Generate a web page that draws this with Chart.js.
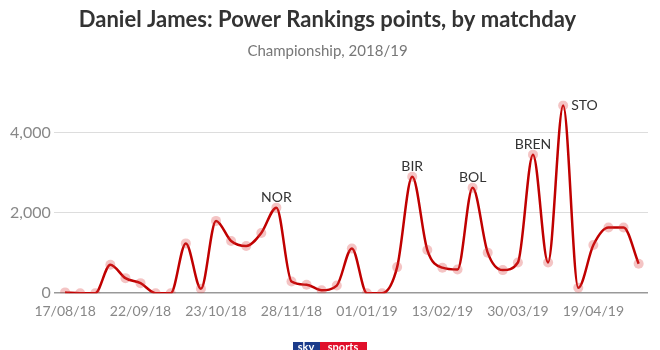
<!DOCTYPE html>
<html>
<head>
<meta charset="utf-8">
<script src="https://cdn.jsdelivr.net/npm/chart.js@4"></script>
<style>
  html,body{margin:0;padding:0;background:#fff;}
  #wrap{width:660px;height:350px;position:relative;}
</style>
</head>
<body>
<div id="wrap"><canvas id="chart" width="660" height="350"></canvas></div>
<script>
// ── DATA ──
const dateLabels = ['17/08/18','','','','','22/09/18','','','','','23/10/18','','','','','28/11/18','','','','',
  '01/01/19','','','','','13/02/19','','','','','30/03/19','','','','','19/04/19','','',''];
const points = [20,0,0,710,375,250,0,0,1240,110,1800,1300,1175,1500,2130,290,210,75,190,1115,
  0,0,650,2900,1075,635,590,2625,1010,575,765,3450,765,4675,135,1200,1635,1635,735];
const yTicks = [0,2000,4000];
const xTicks = [0,5,10,15,20,25,30,35];
const callouts = [
  {i:14, text:'NOR', side:'top'},
  {i:23, text:'BIR', side:'top'},
  {i:27, text:'BOL', side:'top'},
  {i:31, text:'BREN', side:'top'},
  {i:33, text:'STO', side:'right'}
];

const FONT = 'Lato, "Open Sans", sans-serif';

/* ── callout labels + logo ── */
const extras = {
  id:'extras',
  afterDatasetsDraw(chart){
    const {ctx, scales:{x,y}} = chart;
    ctx.save();
    ctx.font = '14px ' + FONT;
    ctx.fillStyle = '#333';
    callouts.forEach(c=>{
      const px = x.getPixelForValue(c.i), py = y.getPixelForValue(points[c.i]);
      if(c.side==='right'){
        ctx.textAlign='left'; ctx.textBaseline='middle';
        ctx.fillText(c.text, px+8, py);
      } else {
        ctx.textAlign='center'; ctx.textBaseline='bottom';
        ctx.fillText(c.text, px, py-3);
      }
    });
    // sky sports badge, cut off at the bottom edge
    ctx.fillStyle='#1b3b8a'; ctx.fillRect(293,342,27,10);
    ctx.fillStyle='#e0102b'; ctx.fillRect(320,342,47,10);
    ctx.fillStyle='#fff'; ctx.font='bold 11px ' + FONT;
    ctx.textAlign='center'; ctx.textBaseline='top';
    ctx.fillText('sky',306,342); ctx.fillText('sports',343,342);
    ctx.restore();
  }
};

new Chart(document.getElementById('chart'),{
  type:'line',
  data:{
    datasets:[{
      data: points.map((v,i)=>({x:i,y:v})),
      borderColor:'#c00000',
      borderWidth:2.5,
      cubicInterpolationMode:'monotone',
      pointRadius:5,
      pointBorderWidth:0,
      pointBackgroundColor:'rgba(220,60,60,0.3)',
      fill:false
    }]
  },
  options:{
    responsive:false,
    animation:false,
    layout:{padding:{left:7,right:12,top:0,bottom:28}},
    plugins:{
      legend:{display:false},
      tooltip:{enabled:false},
      title:{
        display:true,
        text:'Daniel James: Power Rankings points, by matchday',
        color:'#333',
        font:{family:FONT,size:22,weight:'bold'},
        padding:{top:7,bottom:6}
      },
      subtitle:{
        display:true,
        text:'Championship, 2018/19',
        color:'#777',
        font:{family:FONT,size:15},
        padding:{top:3,bottom:40}
      }
    },
    scales:{
      x:{
        type:'linear',
        min:-0.75, max:38.62,
        afterBuildTicks(axis){ axis.ticks = xTicks.map(v=>({value:v})); },
        grid:{display:false},
        border:{display:false},
        ticks:{
          autoSkip:false, maxRotation:0, color:'#888',
          font:{family:FONT,size:14},
          padding:2,
          callback:v=>dateLabels[v]
        }
      },
      y:{
        min:0, max:4800,
        afterBuildTicks(axis){ axis.ticks = yTicks.map(v=>({value:v})); },
        grid:{
          color:ctx=>ctx.tick && ctx.tick.value===0 ? '#999' : '#ddd',
          lineWidth:ctx=>ctx.tick && ctx.tick.value===0 ? 1.5 : 1,
          drawTicks:false
        },
        border:{display:false},
        ticks:{
          color:'#888', padding:3,
          font:{family:FONT,size:16},
          callback:v=>v.toLocaleString('en-US')
        }
      }
    }
  },
  plugins:[extras]
});
</script>
</body>
</html>
